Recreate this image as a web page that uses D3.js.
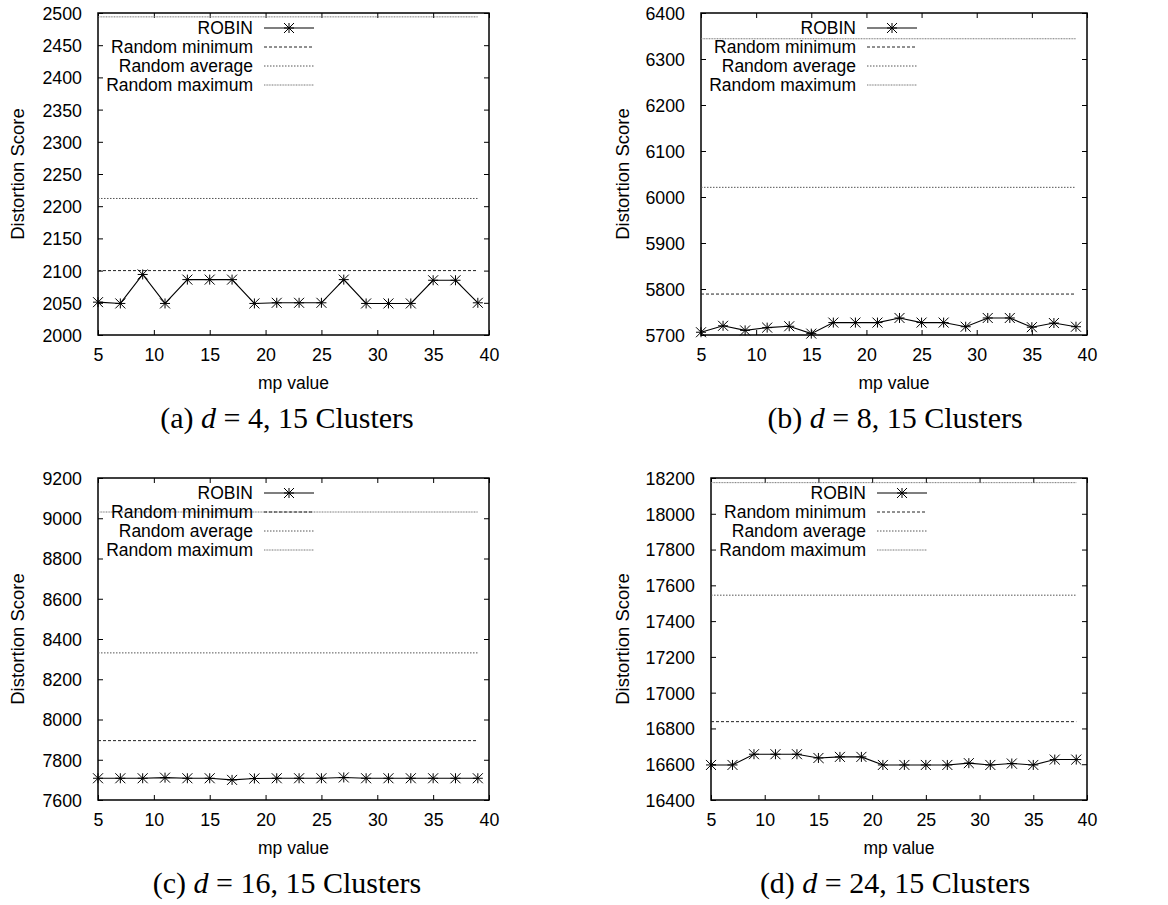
<!DOCTYPE html>
<html>
<head>
<meta charset="utf-8">
<script src="https://cdn.jsdelivr.net/npm/d3@7/dist/d3.min.js"></script>
<style>
  html, body { margin: 0; padding: 0; background: #fff; }
  svg { display: block; }
</style>
</head>
<body>
<svg id="chart" width="1168" height="905"></svg>
<script>
// ---------------- DATA ----------------
const mpValues = [5, 7, 9, 11, 13, 15, 17, 19, 21, 23, 25, 27, 29, 31, 33, 35, 37, 39];
const robinA = [2051, 2049, 2094, 2049, 2086, 2086, 2086, 2049, 2050, 2050, 2050, 2086, 2049, 2049, 2049, 2085, 2085, 2050];
const robinB = [5706, 5720, 5710, 5716, 5719, 5703, 5727, 5727, 5727, 5737, 5727, 5727, 5718, 5737, 5737, 5717, 5726, 5718];
const robinC = [7708, 7708, 7708, 7711, 7708, 7708, 7700, 7707, 7708, 7708, 7708, 7712, 7708, 7708, 7708, 7708, 7708, 7708];
const robinD = [16596, 16596, 16656, 16656, 16656, 16635, 16641, 16641, 16596, 16596, 16596, 16596, 16606, 16596, 16604, 16596, 16626, 16626];
const randomMin = [2100, 5789, 7895, 16838];
const randomAvg = [2212, 6021, 8331, 17545];
const randomMax = [2494, 6344, 9031, 18174];
const yTicksA = [2000, 2050, 2100, 2150, 2200, 2250, 2300, 2350, 2400, 2450, 2500];
const yTicksB = [5700, 5800, 5900, 6000, 6100, 6200, 6300, 6400];
const yTicksC = [7600, 7800, 8000, 8200, 8400, 8600, 8800, 9000, 9200];
const yTicksD = [16400, 16600, 16800, 17000, 17200, 17400, 17600, 17800, 18000, 18200];
const xTicks = [5, 10, 15, 20, 25, 30, 35, 40];
const panelLetters = ["a", "b", "c", "d"];
const dValues = [4, 8, 16, 24];
const clusterCount = 15;
const seriesNames = ["ROBIN", "Random minimum", "Random average", "Random maximum"];
const xLabel = "mp value";
const yLabel = "Distortion Score";

// ---------------- LAYOUT ----------------
const robinSeries = [robinA, robinB, robinC, robinD];
const yTickSets = [yTicksA, yTicksB, yTicksC, yTicksD];
const layout = [
  { left: 98,  right: 489,  top: 13,  bottom: 335, capX: 287, capY: 428, ylabX: 17 },
  { left: 701, right: 1087, top: 13,  bottom: 335, capX: 895, capY: 428, ylabX: 622 },
  { left: 98,  right: 489,  top: 478, bottom: 800, capX: 287, capY: 893, ylabX: 17 },
  { left: 711, right: 1087, top: 478, bottom: 800, capX: 895, capY: 893, ylabX: 622 }
];
const styles = [
  { stroke: "#000", dash: null, width: 1.1 },
  { stroke: "#222", dash: "3,2", width: 1 },
  { stroke: "#555", dash: "1.5,1.5", width: 1 },
  { stroke: "#777", dash: "1,0.6", width: 1 }
];
const sansFont = "'Liberation Sans', Arial, Helvetica, sans-serif";
const serifFont = "'Liberation Serif', 'Times New Roman', serif";

const svg = d3.select("#chart");

function asterisk(g, x, y, r) {
  const p = `M${x - r},${y}L${x + r},${y}M${x},${y - r}L${x},${y + r}` +
            `M${x - r},${y - r}L${x + r},${y + r}` +
            `M${x - r},${y + r}L${x + r},${y - r}`;
  g.append("path").attr("d", p).attr("stroke", "#000").attr("stroke-width", 1).attr("fill", "none");
}

layout.forEach((L, i) => {
  const g = svg.append("g");
  const yTicks = yTickSets[i];
  const x = d3.scaleLinear().domain([xTicks[0], xTicks[xTicks.length - 1]]).range([L.left, L.right]);
  const y = d3.scaleLinear().domain([yTicks[0], yTicks[yTicks.length - 1]]).range([L.bottom, L.top]);

  // axes (gnuplot style: inward ticks, mirrored)
  const tickLen = 5;
  const bottomAxis = d3.axisBottom(x).tickValues(xTicks).tickSize(-tickLen).tickPadding(13);
  const topAxis = d3.axisTop(x).tickValues(xTicks).tickSize(-tickLen).tickFormat("");
  const leftAxis = d3.axisLeft(y).tickValues(yTicks).tickSize(-tickLen).tickPadding(16).tickFormat(d3.format("d"));
  const rightAxis = d3.axisRight(y).tickValues(yTicks).tickSize(-tickLen).tickFormat("");

  const gb = g.append("g").attr("transform", `translate(0,${L.bottom})`).call(bottomAxis);
  const gt = g.append("g").attr("transform", `translate(0,${L.top})`).call(topAxis);
  const gl = g.append("g").attr("transform", `translate(${L.left},0)`).call(leftAxis);
  const gr = g.append("g").attr("transform", `translate(${L.right},0)`).call(rightAxis);
  [gb, gt, gl, gr].forEach(a => {
    a.select(".domain").remove();
    a.selectAll(".tick line").attr("stroke", "#000").attr("stroke-width", 1);
    a.selectAll("text").attr("font-family", sansFont).attr("font-size", 17.8).attr("fill", "#000");
  });
  gb.selectAll("text").attr("dy", "0.71em");
  gl.selectAll("text").attr("dy", "0.36em");

  // border
  g.append("rect").attr("x", L.left).attr("y", L.top)
    .attr("width", L.right - L.left).attr("height", L.bottom - L.top)
    .attr("fill", "none").attr("stroke", "#000").attr("stroke-width", 1.5);

  // reference lines
  const refVals = [randomMin[i], randomAvg[i], randomMax[i]];
  refVals.forEach((v, k) => {
    const s = styles[k + 1];
    g.append("line")
      .attr("x1", x(mpValues[0])).attr("x2", x(mpValues[mpValues.length - 1]))
      .attr("y1", y(v)).attr("y2", y(v))
      .attr("stroke", s.stroke).attr("stroke-width", s.width)
      .attr("stroke-dasharray", s.dash);
  });

  // ROBIN line
  const data = mpValues.map((m, j) => [m, robinSeries[i][j]]);
  g.append("path").datum(data)
    .attr("d", d3.line().x(d => x(d[0])).y(d => y(d[1])))
    .attr("fill", "none").attr("stroke", "#000").attr("stroke-width", styles[0].width);
  data.forEach(d => asterisk(g, x(d[0]), y(d[1]), 5));

  // legend
  const textEnd = L.left + 155, s0 = L.left + 166, s1 = L.left + 216;
  seriesNames.forEach((name, k) => {
    const ry = L.top + 15 + k * 19;
    g.append("text").attr("x", textEnd).attr("y", ry).attr("dy", "0.36em")
      .attr("text-anchor", "end").attr("font-family", sansFont).attr("font-size", 17.5)
      .attr("fill", "#000").text(name);
    const st = styles[k];
    g.append("line").attr("x1", s0).attr("x2", s1).attr("y1", ry).attr("y2", ry)
      .attr("stroke", st.stroke).attr("stroke-width", st.width).attr("stroke-dasharray", st.dash);
    if (k === 0) asterisk(g, (s0 + s1) / 2, ry, 5);
  });

  // axis titles
  g.append("text").attr("x", (L.left + L.right) / 2).attr("y", L.bottom + 48).attr("dy", "0.36em")
    .attr("text-anchor", "middle").attr("font-family", sansFont).attr("font-size", 17.5)
    .attr("fill", "#000").text(xLabel);
  g.append("text").attr("transform", `translate(${L.ylabX},${(L.top + L.bottom) / 2}) rotate(-90)`)
    .attr("dy", "0.36em").attr("text-anchor", "middle").attr("font-family", sansFont)
    .attr("font-size", 18.5).attr("fill", "#000").text(yLabel);

  // caption
  const cap = svg.append("text").attr("x", L.capX).attr("y", L.capY)
    .attr("text-anchor", "middle").attr("font-family", serifFont).attr("font-size", 30).attr("fill", "#000");
  cap.append("tspan").text(`(${panelLetters[i]})\u00a0`);
  cap.append("tspan").attr("font-style", "italic").text("d");
  cap.append("tspan").text(`\u2005=\u2005${dValues[i]}, ${clusterCount} Clusters`);
});
</script>
</body>
</html>
